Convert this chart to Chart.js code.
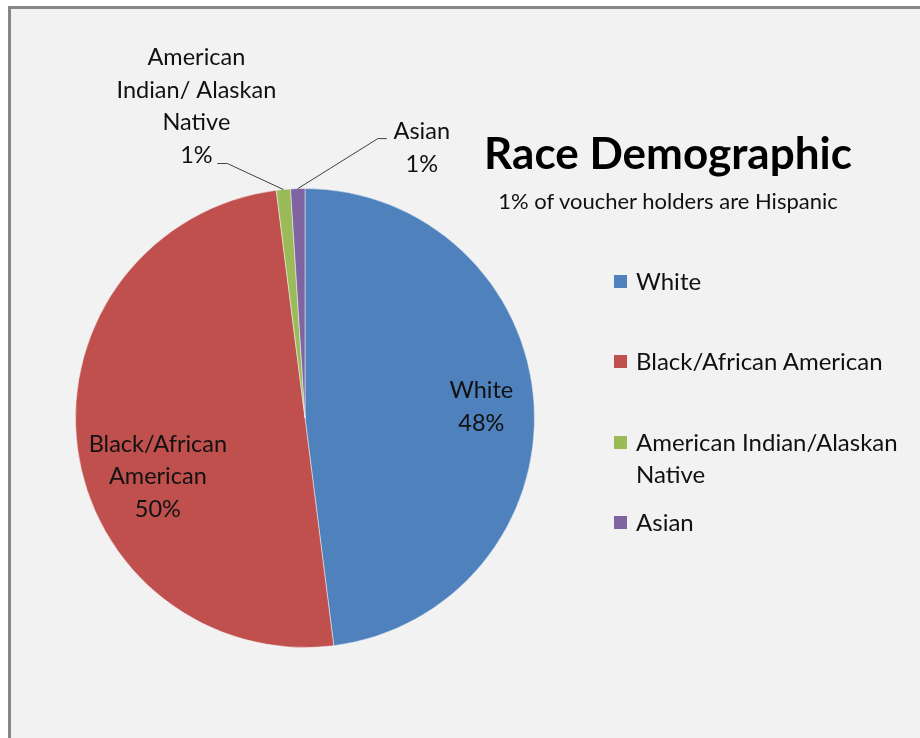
<!DOCTYPE html>
<html>
<head>
<meta charset="utf-8">
<title>Race Demographic</title>
<script src="https://cdn.jsdelivr.net/npm/chart.js@4.4.1/dist/chart.umd.min.js"></script>
<style>
  body { margin: 0; background: #ffffff; font-family: Lato, "Open Sans", sans-serif; }
  #frame {
    position: absolute; left: 8px; top: 6px; width: 1000px; height: 800px;
    border-left: 3px solid #878787; border-top: 3px solid #878787;
    background: #f2f2f2;
  }
  #pie { position: absolute; left: 0; top: 0; }
  #title {
    position: absolute; left: 448px; width: 440px; top: 127px; line-height: 50px;
    text-align: center; font-weight: bold; font-size: 44px; color: #000;
  }
  #subtitle {
    position: absolute; left: 448px; width: 440px; top: 188px; line-height: 26px;
    text-align: center; font-size: 22px; color: #111;
  }
  #legend { position: absolute; left: 614px; top: 0; width: 300px; }
  .item { position: absolute; left: 0; width: 300px; font-size: 24px; color: #111; line-height: 32px; }
  .box { position: absolute; left: 0; top: 10px; width: 13px; height: 13px; }
  .txt { margin-left: 22px; }
</style>
</head>
<body>
<div id="frame"></div>
<canvas id="pie" width="920" height="738"></canvas>
<div id="title">Race Demographic</div>
<div id="subtitle">1% of voucher holders are Hispanic</div>
<div id="legend"></div>

<script>
// data
const categories = ['White', 'Black/African American', 'American Indian/Alaskan Native', 'Asian'];
const shares = [48, 50, 1, 1];
const sliceColors = ['#4F81BD', '#C0504D', '#9BBB59', '#8064A2'];
// how the data label names are broken into lines
const labelNames = [['White'], ['Black/African', 'American'], ['American', 'Indian/ Alaskan', 'Native'], ['Asian']];

// legend rows (top of each row)
const legendTops = [265, 345, 426, 506];
let legend = document.getElementById('legend');
categories.forEach((name, i) => {
  let item = document.createElement('div');
  item.className = 'item';
  item.style.top = legendTops[i] + 'px';
  item.innerHTML = '<span class="box" style="background:' + sliceColors[i] + '"></span><div class="txt">' + name + '</div>';
  legend.appendChild(item);
});

// Data labels, placed from each arc's own geometry
const pieLabels = {
  id: 'pieLabels',
  afterDatasetsDraw(chart, args, opts) {
    let ctx = chart.ctx;
    let arcs = chart.getDatasetMeta(0).data;
    ctx.save();
    ctx.font = '23.5px Lato, "Open Sans", sans-serif';
    ctx.fillStyle = '#111';
    ctx.textAlign = 'center';
    ctx.textBaseline = 'middle';
    arcs.forEach((arc, i) => {
      let p = arc.getProps(['x', 'y', 'startAngle', 'endAngle', 'outerRadius'], true);
      let mid = (p.startAngle + p.endAngle) / 2;
      let lines = labelNames[i].concat([shares[i] + '%']);
      let place = opts.place[i];
      let cx, firstY;
      if (place.inside) {
        let a = mid + place.turn;
        let r = p.outerRadius * place.radius;
        cx = p.x + Math.cos(a) * r;
        let cy = p.y + Math.sin(a) * r;
        firstY = cy - (lines.length - 1) * opts.lineHeight / 2;
      } else {
        let ax = p.x + Math.cos(mid) * p.outerRadius;
        let ay = p.y + Math.sin(mid) * p.outerRadius;
        let ex = ax + place.elbow[0], ey = ay + place.elbow[1];
        let tx = ex + place.tail;
        ctx.strokeStyle = '#404040';
        ctx.lineWidth = 1;
        ctx.beginPath();
        ctx.moveTo(ax, ay);
        ctx.lineTo(ex, ey);
        ctx.lineTo(tx, ey);
        ctx.stroke();
        cx = tx + place.text[0];
        firstY = ey + place.text[1];
      }
      lines.forEach((line, k) => {
        ctx.fillText(line, cx, firstY + k * opts.lineHeight);
      });
    });
    ctx.restore();
  }
};

new Chart(document.getElementById('pie'), {
  type: 'pie',
  data: {
    labels: categories,
    datasets: [{
      data: shares,
      backgroundColor: sliceColors,
      borderColor: 'rgba(255,255,255,0.45)',
      borderWidth: 1
    }]
  },
  options: {
    responsive: false,
    animation: false,
    layout: { padding: { left: 75, top: 188, right: 385, bottom: 90 } },
    plugins: {
      legend: { display: false },
      tooltip: { enabled: false },
      pieLabels: {
        lineHeight: 32.5,
        place: [
          { inside: true, radius: 0.77, turn: 0 },
          { inside: true, radius: 0.69, turn: -0.253 },
          { inside: false, elbow: [-56, -26], tail: -10, text: [-21, -106] },
          { inside: false, elbow: [80, -50], tail: 9, text: [35, -7] }
        ]
      }
    }
  },
  plugins: [pieLabels]
});
</script>
</body>
</html>
